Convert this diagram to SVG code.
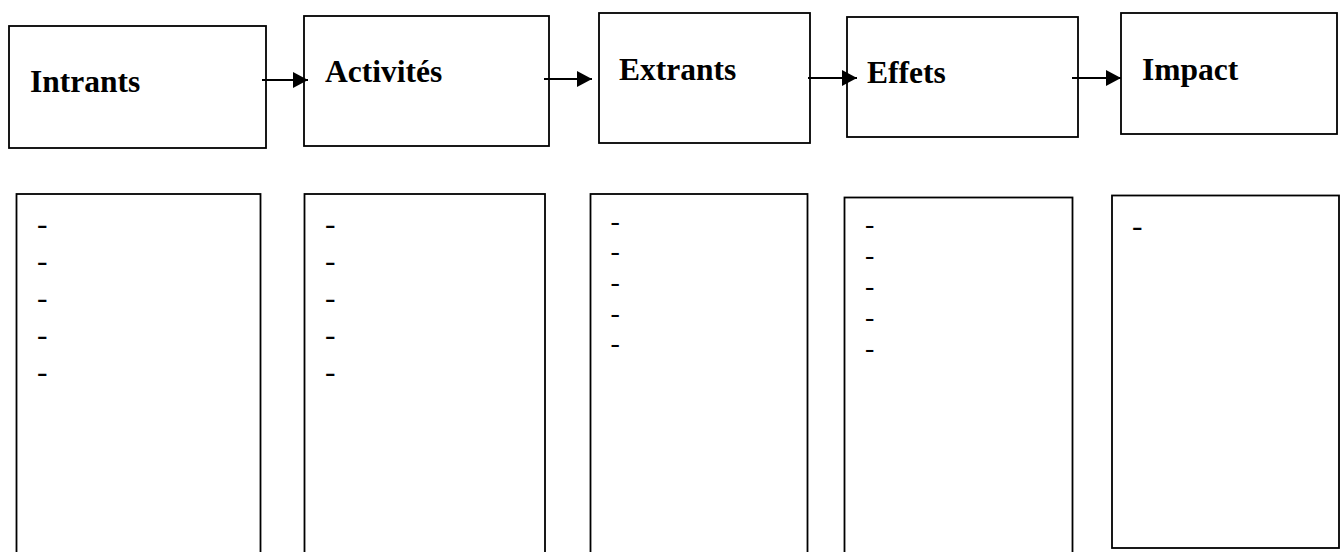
<svg xmlns="http://www.w3.org/2000/svg" width="1341" height="552" viewBox="0 0 1341 552">
<style>
.box{fill:#fff;stroke:#000;stroke-width:1.8}
.title{font-family:"Liberation Serif","Times New Roman",serif;font-weight:bold;font-size:31.5px;fill:#000}
.dash{font-family:"Liberation Serif","Times New Roman",serif;font-size:31.5px;fill:#000}
.dash-s{font-family:"Liberation Serif","Times New Roman",serif;font-size:28px;fill:#000}
.conn{stroke:#000;stroke-width:2;fill:none}
</style>
<defs>
<marker id="arrow" markerUnits="userSpaceOnUse" markerWidth="16" markerHeight="16" refX="15" refY="8" orient="auto">
<path d="M0,0 L15,8 L0,16 z" fill="#000"/>
</marker>
</defs>
<rect width="1341" height="552" fill="#fff"/>
<g id="intrants">
<rect class="box" x="9" y="26" width="257" height="122"/>
<text class="title" x="30" y="91.7">Intrants</text>
</g>
<g id="activites">
<rect class="box" x="304" y="16" width="245" height="130"/>
<text class="title" x="325" y="81.7">Activités</text>
</g>
<g id="extrants">
<rect class="box" x="599" y="13" width="211" height="130"/>
<text class="title" x="619" y="80">Extrants</text>
</g>
<g id="effets">
<rect class="box" x="847" y="17" width="231" height="120"/>
<text class="title" x="867" y="82.7">Effets</text>
</g>
<g id="impact">
<rect class="box" x="1121" y="13" width="216" height="121"/>
<text class="title" x="1142" y="80">Impact</text>
</g>
<g id="connectors">
<line class="conn" x1="262" y1="80" x2="308" y2="80" marker-end="url(#arrow)"/>
<line class="conn" x1="544" y1="79" x2="592" y2="79" marker-end="url(#arrow)"/>
<line class="conn" x1="808" y1="78" x2="857" y2="78" marker-end="url(#arrow)"/>
<line class="conn" x1="1072" y1="78" x2="1121" y2="78" marker-end="url(#arrow)"/>
</g>
<g id="intrants-list">
<rect class="box" x="16.5" y="194" width="244" height="370"/>
<text class="dash" x="37" y="233.5">-</text>
<text class="dash" x="37" y="270.5">-</text>
<text class="dash" x="37" y="307.5">-</text>
<text class="dash" x="37" y="344.5">-</text>
<text class="dash" x="37" y="381.5">-</text>
</g>
<g id="activites-list">
<rect class="box" x="304.5" y="194" width="240.5" height="370"/>
<text class="dash" x="325" y="233.5">-</text>
<text class="dash" x="325" y="270.5">-</text>
<text class="dash" x="325" y="307.5">-</text>
<text class="dash" x="325" y="344.5">-</text>
<text class="dash" x="325" y="381.5">-</text>
</g>
<g id="extrants-list">
<rect class="box" x="590.5" y="194" width="217" height="370"/>
<text class="dash-s" x="610.5" y="229.6">-</text>
<text class="dash-s" x="610.5" y="260.3">-</text>
<text class="dash-s" x="610.5" y="291">-</text>
<text class="dash-s" x="610.5" y="321.7">-</text>
<text class="dash-s" x="610.5" y="352.4">-</text>
</g>
<g id="effets-list">
<rect class="box" x="844.5" y="197.5" width="228" height="370"/>
<text class="dash-s" x="865" y="233">-</text>
<text class="dash-s" x="865" y="264">-</text>
<text class="dash-s" x="865" y="295">-</text>
<text class="dash-s" x="865" y="326">-</text>
<text class="dash-s" x="865" y="357">-</text>
</g>
<g id="impact-list">
<rect class="box" x="1112" y="195.5" width="227" height="352.5"/>
<text class="dash" x="1132" y="235.7">-</text>
</g>
</svg>
